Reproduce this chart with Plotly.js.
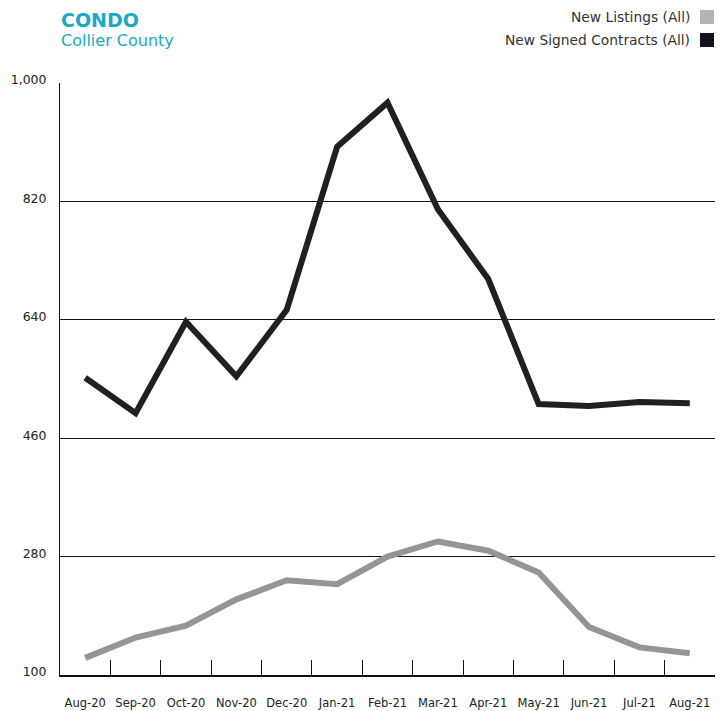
<!DOCTYPE html>
<html>
<head>
<meta charset="utf-8">
<script src="https://cdn.plot.ly/plotly-3.0.1.min.js"></script>
<style>html,body{margin:0;padding:0;background:#fff;}#chart{width:727px;height:711px;}</style>
</head>
<body>
<div id="chart"></div>
<script>
const months = ["Aug-20","Sep-20","Oct-20","Nov-20","Dec-20","Jan-21","Feb-21","Mar-21","Apr-21","May-21","Jun-21","Jul-21","Aug-21"];
const newListings = [126, 157, 175, 215, 244, 238, 280, 303, 289, 256, 173, 142, 133];
const newSignedContracts = [552, 498, 637, 554, 655, 903, 970, 808, 702, 512, 509, 515, 513];
const yTicks = [100, 280, 460, 640, 820, 1000];

const L = 60, R = 715, T = 83, B = 675;
const px = x => (x - L) / (R - L);
const py = y => (B - y) / (B - T);

const traces = [
  {x: months, y: newListings, name: "New Listings (All)", type: "scatter", mode: "lines",
   line: {color: "#949598", width: 6}, showlegend: false},
  {x: months, y: newSignedContracts, name: "New Signed Contracts (All)", type: "scatter", mode: "lines",
   line: {color: "#231f20", width: 6}, showlegend: false}
];

const font = "'DejaVu Sans', 'Open Sans', sans-serif";
const layout = {
  width: 727, height: 711,
  margin: {l: L, r: 727 - R, t: T, b: 711 - B},
  paper_bgcolor: "#fff", plot_bgcolor: "#fff",
  font: {family: font, color: "#222"},
  xaxis: {
    type: "category", range: [-0.5, 12.5], fixedrange: true,
    showgrid: false, showline: true, linecolor: "#111", linewidth: 1.5,
    ticks: "inside", tickson: "boundaries", ticklen: 15, tickcolor: "#111", tickwidth: 1,
    tickangle: 0,
    tickfont: {size: 11.5, color: "#222", family: font}, ticklabelstandoff: 17
  },
  yaxis: {
    range: [100, 1000], fixedrange: true,
    tickvals: yTicks, ticktext: yTicks.map(v => v.toLocaleString("en-US")),
    showgrid: true, gridcolor: "#111", gridwidth: 1,
    showline: true, linecolor: "#111", linewidth: 1, zeroline: false,
    ticks: "", tickfont: {size: 12.5, color: "#222", family: font}, ticklabelstandoff: 10,
    ticklabelshift: -3
  },
  shapes: [
    {type: "rect", xref: "paper", yref: "paper", x0: px(700), x1: px(714), y0: py(24), y1: py(10),
     fillcolor: "#b3b4b8", line: {width: 0}},
    {type: "rect", xref: "paper", yref: "paper", x0: px(700), x1: px(714), y0: py(47), y1: py(33),
     fillcolor: "#13131f", line: {width: 0}}
  ],
  annotations: [
    {text: "<b>CONDO</b>", xref: "paper", yref: "paper", x: px(59), y: py(20), xanchor: "left", yanchor: "middle",
     showarrow: false, font: {size: 19, color: "#1aa9c7", family: font}},
    {text: "Collier County", xref: "paper", yref: "paper", x: px(59), y: py(41), xanchor: "left", yanchor: "middle",
     showarrow: false, font: {size: 16, color: "#1aa9c7", family: font}},
    {text: "New Listings (All)", xref: "paper", yref: "paper", x: px(692), y: py(17), xanchor: "right", yanchor: "middle",
     showarrow: false, font: {size: 13.8, color: "#333", family: font}},
    {text: "New Signed Contracts (All)", xref: "paper", yref: "paper", x: px(692), y: py(40), xanchor: "right", yanchor: "middle",
     showarrow: false, font: {size: 13.8, color: "#333", family: font}}
  ]
};

Plotly.newPlot("chart", traces, layout, {displayModeBar: false, staticPlot: true});
</script>
</body>
</html>
